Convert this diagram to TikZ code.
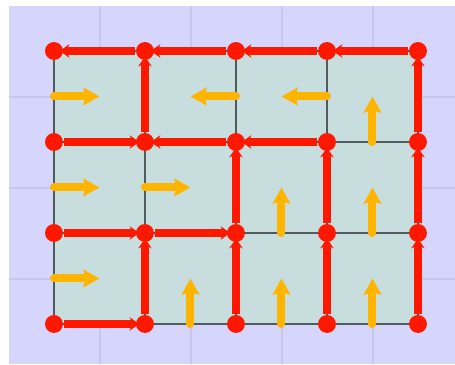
\documentclass[tikz,border=0pt]{standalone}
\usepackage{tikz}
\usetikzlibrary{arrows.meta, calc}
\definecolor{bglav}{RGB}{214, 214, 252}
\definecolor{bgline}{RGB}{198, 198, 238}
\definecolor{cellteal}{RGB}{200, 222, 222}
\definecolor{edgegray}{RGB}{78, 92, 92}
\definecolor{treered}{RGB}{255, 24, 0}
\definecolor{floworange}{RGB}{255, 180, 0}

\begin{document}
\begin{tikzpicture}[x=1cm, y=1cm,
    dot/.style={circle, fill=treered, inner sep=0pt, minimum size=5.6pt},
    tree/.style={-{Stealth[length=3pt, width=4.2pt]}, line width=2.5pt, treered, shorten >=-1.2pt},
    flow/.style={-{Stealth[length=5pt, width=5.4pt, inset=0.6pt]}, line width=2.5pt, floworange, line cap=round}]
      \useasboundingbox (0,0) rectangle (5,4);
      % background and its grid
      \fill[bglav] (0.1,0) rectangle (5,3.934);
      \foreach \x in {1.1,2.1,3.1,4.1} \draw[bgline, line width=0.6pt] (\x,0) -- (\x,3.934);
      \foreach \y in {0.934,1.934,2.934} \draw[bgline, line width=0.6pt] (0.1,\y) -- (5,\y);
      % cells
      \fill[cellteal] (0.593,0.44) rectangle (4.593,3.44);
      \foreach \i in {0,...,4} \draw[edgegray, line width=0.6pt] ({0.593+\i},0.44) -- ({0.593+\i},3.44);
      \foreach \j in {0,...,3} \draw[edgegray, line width=0.6pt] (0.593,{0.44+\j}) -- (4.593,{0.44+\j});
      % cell centres and flow arrows
      \foreach \i in {0,...,3} \foreach \j in {0,...,2} \coordinate (c\i\j) at ({1.093+\i},{0.94+\j});
      \foreach \c in {c02,c01,c11,c00} \draw[flow] ($(\c)+(-0.5,0)$) -- (\c);
      \foreach \c in {c12,c22} \draw[flow] ($(\c)+(0.5,0)$) -- (\c);
      \foreach \c in {c32,c21,c31,c10,c20,c30} \draw[flow] ($(\c)+(0,-0.5)$) -- (\c);
      % tree nodes and edges
      \foreach \i in {0,...,4} \foreach \j in {0,...,3} \node[dot] (n\i\j) at ({0.593+\i},{0.44+\j}) {};
      \foreach \a/\b in {n13/n03, n23/n13, n33/n23, n43/n33, n12/n13, n40/n41, n41/n42, n42/n43,
                         n02/n12, n22/n12, n32/n22, n20/n21, n21/n22, n30/n31, n31/n32,
                         n01/n11, n11/n21, n10/n11, n00/n10}
        \draw[tree] (\a) -- (\b);
    \end{tikzpicture}
\end{document}
